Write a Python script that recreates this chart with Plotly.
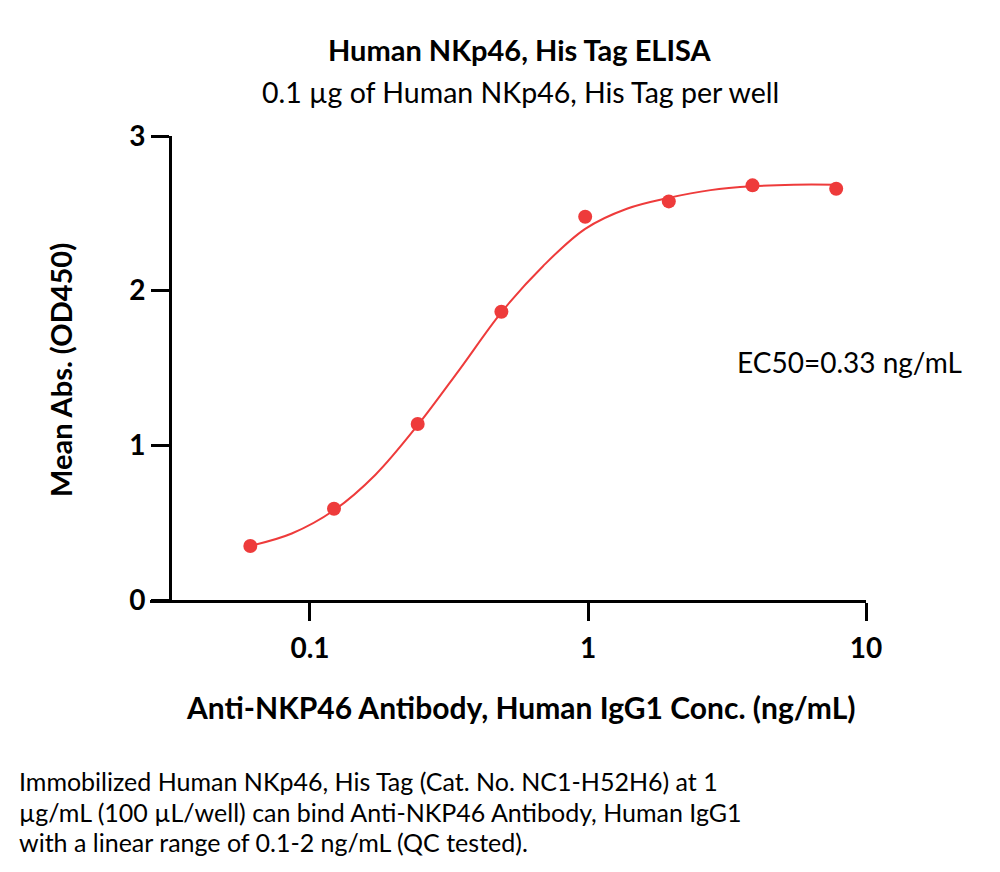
import plotly.graph_objects as go

# Data
conc = [0.061, 0.122, 0.244, 0.488, 0.977, 1.953, 3.906, 7.8125]
od450 = [0.349, 0.590, 1.138, 1.864, 2.478, 2.577, 2.681, 2.659]

# Fitted curve samples
curve_x = [0.061, 0.086, 0.122, 0.172, 0.244, 0.345, 0.488, 0.69, 0.977, 1.38, 1.95, 2.76, 3.9, 5.5, 7.8125]
curve_y = [0.35, 0.43, 0.58, 0.81, 1.13, 1.49, 1.86, 2.16, 2.40, 2.53, 2.60, 2.65, 2.675, 2.685, 2.685]

x_tickvals = [0.1, 1, 10]
x_ticktext = ["0.1", "1", "10"]
y_tickvals = [0, 1, 2, 3]

title = "Human NKp46, His Tag ELISA"
subtitle = "0.1 µg of Human NKp46, His Tag per well"
x_title = "Anti-NKP46 Antibody, Human IgG1 Conc. (ng/mL)"
y_title = "Mean Abs. (OD450)"
ec50_text = "EC50=0.33 ng/mL"
caption = [
    "Immobilized Human NKp46, His Tag (Cat. No. NC1-H52H6) at 1",
    "µg/mL (100 µL/well) can bind Anti-NKP46 Antibody, Human IgG1",
    "with a linear range of 0.1-2 ng/mL (QC tested).",
]

FONT = "Lato"
RED = "#EE3B3B"

# Layout geometry (pixels); page offset of 8px compensated
OX, OY = 8, 8
W, H = 1000, 872
L, T = 150 - OX, 136 - OY
R = W - (866 - OX)
B = H - (600 - OY)
pw, ph = W - L - R, H - T - B

def px_x(p):
    return (p - OX - L) / pw

def px_y(p):
    return (H - B - (p - OY)) / ph

fig = go.Figure()
fig.add_trace(go.Scatter(x=curve_x, y=curve_y, mode="lines", line=dict(color=RED, width=2, shape="spline"),
                         hoverinfo="skip", showlegend=False))
fig.add_trace(go.Scatter(x=conc, y=od450, mode="markers", marker=dict(color=RED, size=14),
                         showlegend=False))

fig.update_layout(
    width=W, height=H,
    margin=dict(l=L, r=R, t=T, b=B, pad=0),
    paper_bgcolor="white", plot_bgcolor="white",
    font=dict(family=FONT, color="black"),
    xaxis=dict(type="log", range=[-1.5755, 1.0], tickvals=x_tickvals, ticktext=x_ticktext,
               showline=True, linecolor="black", linewidth=3, ticks="outside", ticklen=18,
               tickwidth=3, tickcolor="black", showgrid=False, zeroline=False,
               tickfont=dict(family=FONT, size=28, color="black", weight="bold"),
               ticklabelstandoff=3),
    yaxis=dict(range=[0, 3], tickvals=y_tickvals, anchor="free", position=px_x(170),
               showline=True, linecolor="black", linewidth=3, ticks="outside", ticklen=18,
               tickwidth=3, tickcolor="black", showgrid=False, zeroline=False,
               tickfont=dict(family=FONT, size=28, color="black", weight="bold"),
               ticklabelstandoff=0),
)

ann = []
ann.append(dict(text=f"<b>{title}</b>", x=px_x(520), y=px_y(49), font=dict(size=29)))
ann.append(dict(text=subtitle, x=px_x(520), y=px_y(92), font=dict(size=28.5)))
ann.append(dict(text=f"<b>{x_title}</b>", x=px_x(520), y=px_y(707), font=dict(size=30)))
ann.append(dict(text=f"<b>{y_title}</b>", x=px_x(60), y=px_y(370), textangle=-90, font=dict(size=29)))
ann.append(dict(text=ec50_text, x=px_x(735), y=px_y(362), xanchor="left", font=dict(size=28)))
for i, line in enumerate(caption):
    ann.append(dict(text=line, x=px_x(17), y=px_y(781 + 30.5 * i), xanchor="left", font=dict(size=25)))

for a in ann:
    a.setdefault("xanchor", "center")
    a.update(xref="paper", yref="paper", yanchor="middle", showarrow=False)
    a["font"].update(family=FONT, color="black")
fig.update_layout(annotations=ann)

fig.write_html("out.html")
